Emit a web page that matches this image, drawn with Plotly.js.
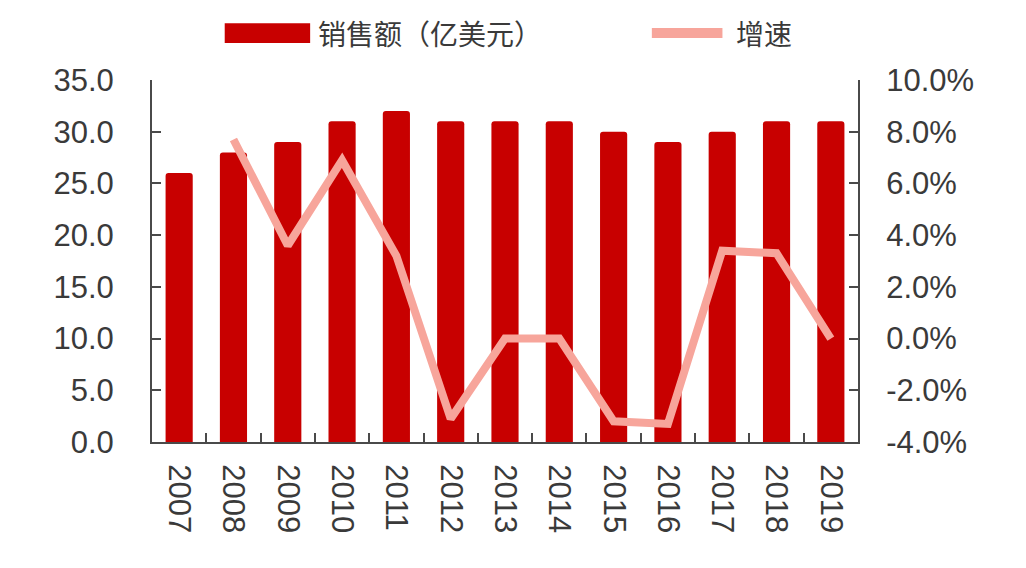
<!DOCTYPE html>
<html>
<head>
<meta charset="utf-8">
<script src="https://cdn.plot.ly/plotly-3.0.1.min.js"></script>
<style>
  html, body { margin: 0; padding: 0; background: #ffffff; }
  #chart { width: 1026px; height: 568px; }
</style>
</head>
<body>
<div id="chart"></div>
<script>
var years = ['2007', '2008', '2009', '2010', '2011', '2012', '2013',
             '2014', '2015', '2016', '2017', '2018', '2019'];
// 销售额（亿美元）
var sales = [26, 28, 29, 31, 32, 31, 31, 31, 30, 29, 30, 31, 31];
// 增速 (%)
var growth = [null, 7.7, 3.6, 6.9, 3.2, -3.1, 0.0, 0.0, -3.2, -3.3, 3.4, 3.3, 0.0];
// right axis ticks (plain hyphen minus, as in the source)
var rateTicks = [-4, -2, 0, 2, 4, 6, 8, 10];
var rateTickText = ['-4.0%', '-2.0%', '0.0%', '2.0%', '4.0%', '6.0%', '8.0%', '10.0%'];

var barName = '销售额（亿美元）';
var lineName = '增速';

var textColor = '#3a3a3a';
var axisColor = '#4a4a4a';
var barColor = '#c80000';
var lineColor = '#f7a59b';
var tickFont = { family: 'Liberation Sans, Arial, sans-serif', size: 31, color: textColor };
var legendFont = { family: 'Noto Sans CJK SC, sans-serif', size: 28, color: textColor };

var barTrace = {
    x: years,
    y: sales,
    type: 'bar',
    name: barName,
    marker: { color: barColor, cornerradius: 3 },
    hoverinfo: 'x+y'
};

var lineTrace = {
    x: years,
    y: growth,
    type: 'scatter',
    mode: 'lines',
    name: lineName,
    yaxis: 'y2',
    line: { color: lineColor, width: 8 },
    connectgaps: false
};

// the source legend uses wide swatches, so it is drawn by hand above the plot
var legendShapes = [
    { type: 'rect', xref: 'paper', yref: 'paper', x0: 0.103, x1: 0.224, y0: 1.102, y1: 1.157,
      fillcolor: barColor, line: { width: 0 } },
    { type: 'line', xref: 'paper', yref: 'paper', x0: 0.708, x1: 0.808, y0: 1.13, y1: 1.13,
      line: { color: lineColor, width: 10 } }
];
var legendLabels = [
    { text: barName, xref: 'paper', yref: 'paper', x: 0.233, y: 1.13, xanchor: 'left', yanchor: 'middle',
      showarrow: false, font: legendFont },
    { text: lineName, xref: 'paper', yref: 'paper', x: 0.825, y: 1.13, xanchor: 'left', yanchor: 'middle',
      showarrow: false, font: legendFont }
];

var layout = {
    width: 1026,
    height: 568,
    margin: { l: 152, r: 168, t: 80, b: 126, autoexpand: false },
    paper_bgcolor: '#ffffff',
    plot_bgcolor: '#ffffff',
    bargap: 0.5,
    showlegend: false,
    shapes: legendShapes,
    annotations: legendLabels,
    xaxis: {
        type: 'category',
        showline: true,
        linecolor: axisColor,
        linewidth: 2,
        ticks: 'inside',
        tickson: 'boundaries',
        ticklen: 9,
        tickwidth: 2,
        tickcolor: axisColor,
        tickangle: 90,
        tickfont: tickFont,
        ticklabelstandoff: 14,
        showgrid: false,
        zeroline: false,
        fixedrange: true
    },
    yaxis: {
        range: [0, 35],
        dtick: 5,
        tickformat: '.1f',
        showline: true,
        linecolor: axisColor,
        linewidth: 2,
        ticks: 'inside',
        ticklen: 9,
        tickwidth: 2,
        tickcolor: axisColor,
        tickfont: tickFont,
        ticklabelstandoff: 30,
        showgrid: false,
        zeroline: false,
        fixedrange: true
    },
    yaxis2: {
        overlaying: 'y',
        side: 'right',
        range: [-4, 10],
        tickmode: 'array',
        tickvals: rateTicks,
        ticktext: rateTickText,
        showline: true,
        linecolor: axisColor,
        linewidth: 2,
        ticks: 'inside',
        ticklen: 9,
        tickwidth: 2,
        tickcolor: axisColor,
        tickfont: tickFont,
        ticklabelstandoff: 20,
        showgrid: false,
        zeroline: false,
        fixedrange: true
    }
};

Plotly.newPlot('chart', [barTrace, lineTrace], layout, { displayModeBar: false, staticPlot: true });
</script>
</body>
</html>
